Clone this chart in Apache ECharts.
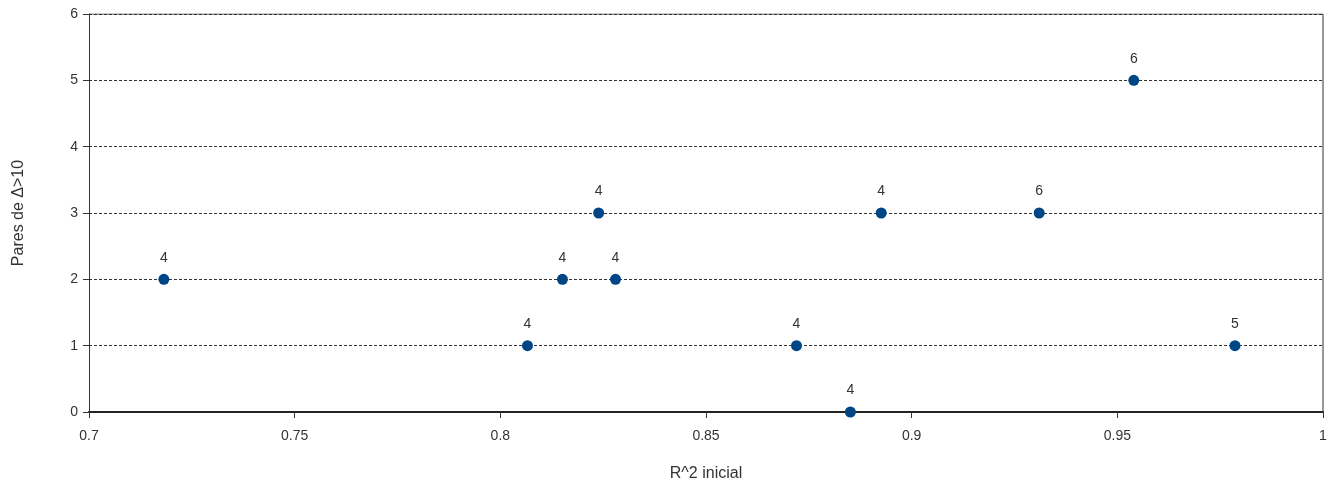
<!DOCTYPE html>
<html style="height: 100%">
  <head>
    <meta charset="utf-8" />
  </head>
  <body style="height: 100%; margin: 0; background: #fff">
    <div id="container" style="width: 1340px; height: 487px"></div>

    <script
      type="text/javascript"
      src="https://fastly.jsdelivr.net/npm/echarts@6/dist/echarts.min.js"
    ></script>

    <script type="text/javascript">
      // R^2 inicial, pares con delta > 10, etiqueta de cada punto
      var r2Inicial = [0.7182, 0.8066, 0.8151, 0.8239, 0.828, 0.872, 0.8851, 0.8926, 0.931, 0.954, 0.9786];
      var pares = [2, 1, 2, 3, 2, 1, 0, 3, 3, 5, 1];
      var etiquetas = [4, 4, 4, 4, 4, 4, 4, 4, 6, 6, 5];

      var dom = document.getElementById("container");
      var myChart = echarts.init(dom, null, { renderer: "canvas" });

      var data = r2Inicial.map(function (x, i) {
        return [x, pares[i], etiquetas[i]];
      });

      var font = "Liberation Sans";
      var option = {
        animation: false,
        grid: { left: 89, right: 17, top: 14, bottom: 75, show: false },
        xAxis: {
          type: "value",
          min: 0.7,
          max: 1,
          interval: 0.05,
          name: "R^2 inicial",
          nameLocation: "middle",
          nameGap: 54,
          nameTextStyle: { fontFamily: font, fontSize: 16, color: "#333" },
          axisLine: { onZero: false, lineStyle: { color: "#222", width: 2 } },
          axisTick: { show: true, length: 6, lineStyle: { color: "#333" } },
          axisLabel: {
            fontFamily: font,
            fontSize: 14,
            color: "#333",
            margin: 17,
            formatter: function (v) {
              return String(+v.toFixed(2));
            },
          },
          splitLine: { show: false },
        },
        yAxis: {
          type: "value",
          min: 0,
          max: 6,
          interval: 1,
          name: "Pares de Δ>10",
          nameLocation: "middle",
          nameGap: 62,
          nameTextStyle: { fontFamily: font, fontSize: 16, color: "#333" },
          axisLine: { show: true, lineStyle: { color: "#333" } },
          axisTick: { show: true, length: 6, lineStyle: { color: "#333" } },
          axisLabel: { fontFamily: font, fontSize: 14, color: "#333", margin: 11 },
          splitLine: {
            show: true,
            lineStyle: { color: "#333", type: [3, 2], width: 1 },
          },
        },
        series: [
          {
            type: "scatter",
            data: data,
            symbolSize: 11,
            itemStyle: { color: "#004586", opacity: 1 },
            label: {
              show: true,
              position: "top",
              distance: 9,
              fontFamily: font,
              fontSize: 14,
              color: "#333",
              formatter: function (p) {
                return p.value[2];
              },
            },
            z: 5,
          },
          {
            // marco superior y derecho
            type: "line",
            data: [[0.7, 6], [1, 6], [1, 0]],
            symbol: "none",
            lineStyle: { color: "#333", width: 1 },
            silent: true,
            z: 3,
          },
        ],
      };

      myChart.setOption(option);
      window.addEventListener("resize", myChart.resize);
    </script>
  </body>
</html>
